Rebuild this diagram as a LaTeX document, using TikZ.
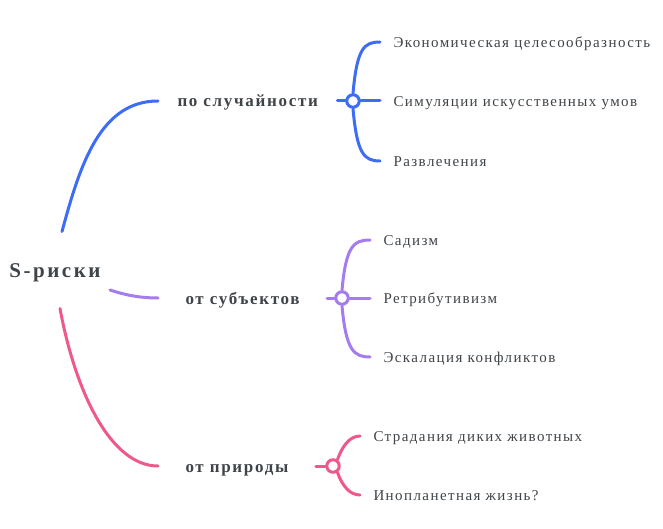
\documentclass[tikz,border=0pt]{standalone}
\usepackage{fontspec}
\setmainfont[LetterSpace=9.5]{Liberation Serif}
\usepackage{tikz}

\definecolor{blu}{HTML}{3D6DF5}
\definecolor{pur}{HTML}{A47CF0}
\definecolor{pnk}{HTML}{F0588C}
\definecolor{ink}{HTML}{3E4449}

\begin{document}
\begin{tikzpicture}[x=1pt,y=-1pt,line width=3pt,line cap=round]

    \tikzstyle{root}=[font=\fontsize{21}{24}\selectfont\bfseries\addfontfeatures{LetterSpace=12},text=ink,inner xsep=8pt,minimum height=74pt,text height=14pt,text depth=0pt]
    \tikzstyle{topic}=[font=\fontsize{17}{19}\selectfont\bfseries\addfontfeatures{LetterSpace=10},text=ink,anchor=west,inner xsep=26pt,text height=12pt,text depth=0pt]
    \tikzstyle{leaf}=[font=\fontsize{15}{17}\selectfont,text=ink,anchor=west,inner xsep=12pt,text height=11pt,text depth=0pt]
    \tikzstyle{hub}=[circle,draw,fill=white,minimum size=12.5pt,inner sep=0pt]

    \useasboundingbox (0,0) rectangle (663,529);

    \node[root] (s) at (55,270) {S-риски};

    \node[topic,inner xsep=18pt] (t1) at (158,101) {по случайности};
    \node[topic] (t2) at (158,298) {от субъектов};
    \node[topic] (t3) at (158,466) {от природы};

    \node[hub,draw=blu] (c1) at (353,101) {};
    \node[hub,draw=pur] (c2) at (342,298) {};
    \node[hub,draw=pnk] (c3) at (333,466) {};

    \node[leaf] (l11) at (380,42)  {Экономическая целесообразность};
    \node[leaf] (l12) at (380,101) {Симуляции искусственных умов};
    \node[leaf] (l13) at (380,161) {Развлечения};

    \node[leaf] (l21) at (370,240) {Садизм};
    \node[leaf] (l22) at (370,298) {Ретрибутивизм};
    \node[leaf] (l23) at (370,357) {Эскалация конфликтов};

    \node[leaf] (l31) at (360,436) {Страдания диких животных};
    \node[leaf] (l32) at (360,495) {Инопланетная жизнь?};

    % blue
    \draw[blu] ([xshift=7pt]s.north) .. controls (80,165) and (100,101) .. (t1.west);
    \draw[blu] (t1.east) -- (c1.west);
    \draw[blu] (c1.east) -- (l12.west);
    \draw[blu] (c1.north) .. controls +(4,-45) and +(-16,0) .. (l11.west);
    \draw[blu] (c1.south) .. controls +(4,45) and +(-16,0) .. (l13.west);

    % purple
    \draw[pur] ([yshift=-20pt]s.east) .. controls (125,295) and (140,298) .. (t2.west);
    \draw[pur] (t2.east) -- (c2.west);
    \draw[pur] (c2.east) -- (l22.west);
    \draw[pur] (c2.north) .. controls +(4,-45) and +(-16,0) .. (l21.west);
    \draw[pur] (c2.south) .. controls +(4,45) and +(-16,0) .. (l23.west);

    % pink
    \draw[pnk] ([xshift=5pt]s.south) .. controls (75,390) and (110,466) .. (t3.west);
    \draw[pnk] (t3.east) -- (c3.west);
    \draw[pnk] (c3.55) .. controls +(5,-14) and +(-10,0) .. (l31.west);
    \draw[pnk] (c3.-55) .. controls +(5,14) and +(-10,0) .. (l32.west);

\end{tikzpicture}
\end{document}
